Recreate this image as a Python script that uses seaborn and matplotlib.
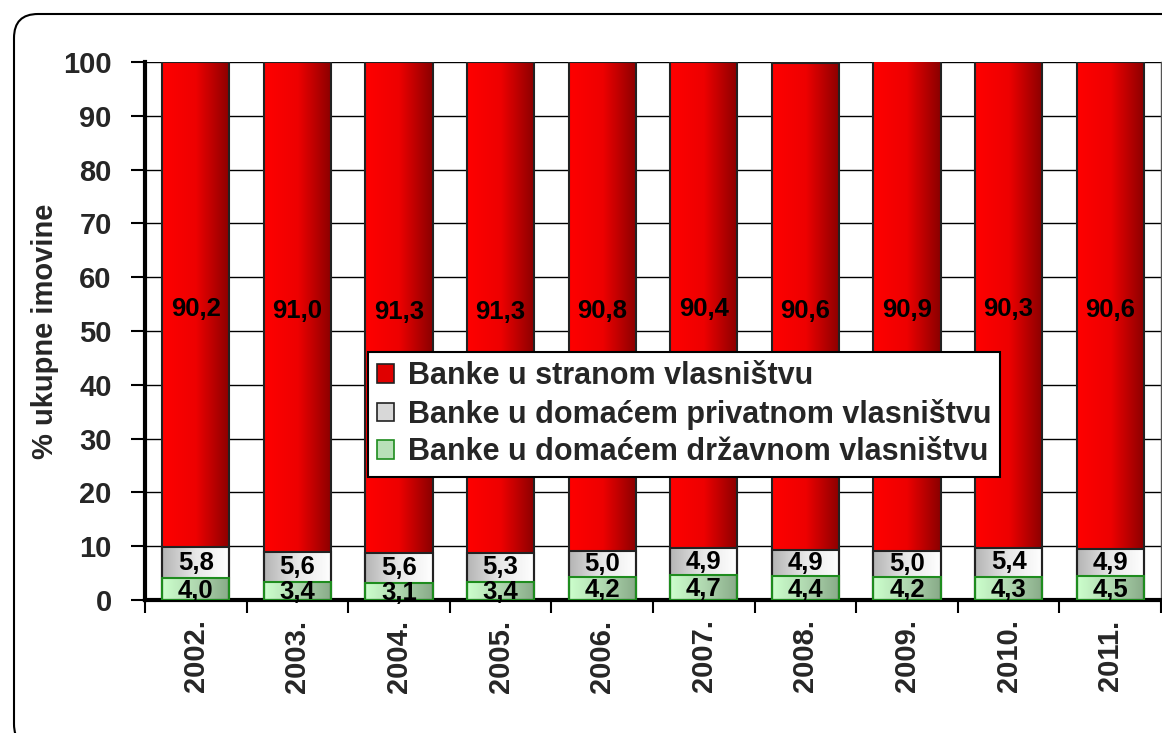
import numpy as np
import pandas as pd
import matplotlib
matplotlib.use("Agg")
import matplotlib.pyplot as plt
import seaborn as sns
from matplotlib.patches import FancyBboxPatch, Patch
from matplotlib.colors import LinearSegmentedColormap
from matplotlib.transforms import IdentityTransform

years = ["2002.", "2003.", "2004.", "2005.", "2006.", "2007.", "2008.", "2009.", "2010.", "2011."]
foreign = [90.2, 91.0, 91.3, 91.3, 90.8, 90.4, 90.6, 90.9, 90.3, 90.6]
private = [5.8, 5.6, 5.6, 5.3, 5.0, 4.9, 4.9, 5.0, 5.4, 4.9]
state = [4.0, 3.4, 3.1, 3.4, 4.2, 4.7, 4.4, 4.2, 4.3, 4.5]
series_names = ["Banke u stranom vlasništvu",
                "Banke u domaćem privatnom vlasništvu",
                "Banke u domaćem državnom vlasništvu"]

sns.set_theme(style="white")
plt.rcParams['font.family'] = ['Liberation Sans', 'DejaVu Sans']
plt.rcParams['font.weight'] = 'bold'

fig = plt.figure(figsize=(11.62, 7.33), dpi=100)
W, H = 1162, 733
ax = fig.add_axes([145 / W, 1 - 600 / H, (1161 - 145) / W, (600 - 62) / H])

# rounded outer frame (pixel coordinates)
frame = FancyBboxPatch((14, H - 748), 1190 - 14, 748 - 14,
                       boxstyle="round,pad=0,rounding_size=24",
                       transform=IdentityTransform(), fill=False, edgecolor="black",
                       linewidth=1.5, clip_on=False, zorder=0)
fig.patches.append(frame)

df = pd.DataFrame({"year": years, "foreign": foreign, "private": private, "state": state})
df["top_private"] = df["state"] + df["private"]
df["top_foreign"] = df["top_private"] + df["foreign"]

red_cm = LinearSegmentedColormap.from_list("r", ["#FF0000", "#EE0000", "#8A0000"])
gray_cm = LinearSegmentedColormap.from_list("g", ["#B4B4B4", "#E8E8E8", "#FFFFFF"])
green_cm = LinearSegmentedColormap.from_list("gr", ["#CCFFCC", "#B0D8B0", "#88AA88"])

layers = [("top_foreign", red_cm, "#222222"),
          ("top_private", gray_cm, "#222222"),
          ("state", green_cm, "#1E8C1E")]

grad = np.linspace(0, 1, 256).reshape(1, -1)
for col, cm, ec in layers:
    n_before = len(ax.patches)
    sns.barplot(data=df, x="year", y=col, color="white", width=0.66,
                edgecolor=ec, linewidth=1.5, ax=ax, zorder=3)
    for p in ax.patches[n_before:]:
        x0, y0 = p.get_x(), p.get_y()
        w, h = p.get_width(), p.get_height()
        im = ax.imshow(grad, cmap=cm, aspect="auto", extent=[x0, x0 + w, y0, y0 + h],
                       zorder=3.5, interpolation="bilinear")
        im.set_clip_path(p)
        im.set_clip_box(ax.bbox)
        p.set_facecolor("none")
        p.set_zorder(4)

ax.set_xlim(-0.5, len(years) - 0.5)
ax.set_ylim(0, 100)
ax.set_yticks(range(0, 101, 10))
ax.yaxis.grid(True, color="black", linewidth=1.0, zorder=0)
ax.set_axisbelow(True)

# data labels
lab_kw = dict(ha="center", va="center", fontsize=18.5, fontweight="bold", color="black", zorder=6)
for i in range(len(years)):
    ax.text(i, state[i] / 2 - 0.3, f"{state[i]:.1f}".replace(".", ","), **lab_kw)
    ax.text(i, state[i] + private[i] / 2, f"{private[i]:.1f}".replace(".", ","), **lab_kw)
    ax.text(i, df["top_private"][i] + foreign[i] / 2 - 0.8, f"{foreign[i]:.1f}".replace(".", ","),
            **lab_kw)

for s in ["left", "bottom"]:
    ax.spines[s].set_linewidth(3)
    ax.spines[s].set_color("black")
ax.spines["top"].set_visible(False)
ax.spines["right"].set_linewidth(1.0)
ax.spines["right"].set_color("#555555")

ax.set_xticks(np.arange(-0.5, len(years), 1.0), minor=False)
ax.set_xticklabels([])
ax.set_xticks(np.arange(len(years)), minor=True)
ax.set_xticklabels(years, minor=True, rotation=90, fontsize=21, fontweight="bold")
ax.tick_params(axis="x", which="major", length=9, width=1.5, direction="out", bottom=True, color="black")
ax.tick_params(axis="x", which="minor", length=0, pad=14)
ax.tick_params(axis="y", length=10, width=1.5, direction="out", left=True, color="black",
               labelsize=21, pad=14)
for t in ax.get_yticklabels():
    t.set_fontweight("bold")
ax.set_xlabel("")
ax.set_ylabel("% ukupne imovine", fontsize=21, fontweight="bold")
ax.yaxis.label.set_va("center")
ax.yaxis.set_label_coords((45 - 145) / (1161 - 145), 0.5)

handles = [Patch(facecolor="#E00000", edgecolor="#222222", linewidth=1.2),
           Patch(facecolor="#D8D8D8", edgecolor="#222222", linewidth=1.2),
           Patch(facecolor="#B8E0B8", edgecolor="#1E8C1E", linewidth=1.2)]
leg = ax.legend(handles, series_names, loc="upper left",
                bbox_to_anchor=((368 - 145) / (1161 - 145), (600 - 352) / (600 - 62)),
                frameon=True, fancybox=False, framealpha=1, edgecolor="black",
                prop={"weight": "bold", "size": 22}, handlelength=0.55, handleheight=0.55,
                handletextpad=0.45, borderpad=0.3, borderaxespad=0, labelspacing=0.25)
leg.get_frame().set_linewidth(1.5)
leg.set_zorder(10)

fig.savefig("out.png", dpi=100)
